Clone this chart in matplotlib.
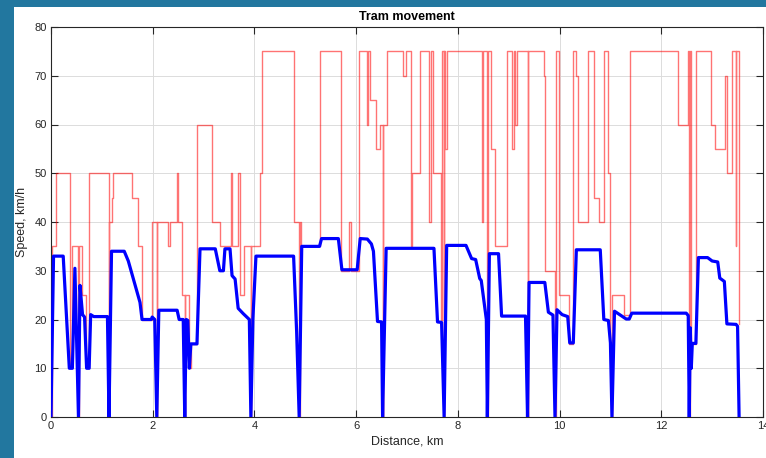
import matplotlib
matplotlib.use("Agg")
import matplotlib.pyplot as plt
from matplotlib.patches import Rectangle

# speed limit along the line: (start km, limit km/h), held until the next start
limit_km = [0.00, 0.01, 0.10, 0.37, 0.42, 0.54, 0.545, 0.60, 0.68, 0.75,
            1.14, 1.15, 1.19, 1.22, 1.60, 1.72, 1.78, 1.98, 2.08, 2.09,
            2.31, 2.34, 2.47, 2.50, 2.58, 2.63, 2.64, 2.71, 2.75, 2.88,
            3.16, 3.33, 3.53, 3.56, 3.67, 3.71, 3.80, 3.93, 3.94, 4.11,
            4.14, 4.77, 4.88, 4.89, 4.92, 5.29, 5.71, 5.86, 5.90, 6.05,
            6.21, 6.24, 6.27, 6.40, 6.47, 6.52, 6.53, 6.60, 6.93, 6.99,
            7.07, 7.09, 7.25, 7.43, 7.47, 7.52, 7.67, 7.69, 7.72, 7.735,
            7.75, 7.78, 8.47, 8.50, 8.58, 8.59, 8.66, 8.73, 8.97, 9.06,
            9.10, 9.13, 9.16, 9.37, 9.38, 9.69, 9.72, 9.91, 9.92, 9.98,
            10.19, 10.27, 10.33, 10.36, 10.55, 10.68, 10.78, 10.87, 10.96, 11.00,
            11.03, 11.04, 11.27, 11.38, 12.33, 12.52, 12.55, 12.56, 12.575, 12.68,
            12.98, 13.05, 13.25, 13.30, 13.40, 13.46, 13.47, 13.53, 13.535]
limit_kmh = [0, 35, 50, 10, 35, 0, 35, 25, 10, 50,
             0, 40, 45, 50, 45, 35, 20, 40, 0, 40,
             35, 40, 50, 40, 25, 0, 25, 10, 15, 60,
             40, 35, 50, 35, 50, 25, 35, 0, 35, 50,
             75, 40, 0, 40, 35, 75, 30, 40, 30, 75,
             60, 75, 65, 55, 60, 0, 60, 75, 70, 75,
             35, 50, 75, 40, 75, 50, 20, 75, 0, 75,
             55, 75, 40, 75, 0, 75, 55, 35, 75, 55,
             75, 60, 75, 0, 75, 70, 30, 0, 75, 25,
             15, 75, 70, 40, 75, 45, 40, 75, 50, 15,
             0, 25, 21, 75, 60, 75, 0, 75, 15, 75,
             60, 55, 70, 50, 75, 35, 75, 19, 19]

# measured tram speed
speed_km = [0.00, 0.05, 0.24, 0.36, 0.42, 0.47, 0.54, 0.57, 0.62, 0.66,
            0.70, 0.75, 0.78, 0.84, 1.11, 1.14, 1.19, 1.44, 1.52, 1.75,
            1.79, 1.97, 1.99, 2.04, 2.08, 2.12, 2.48, 2.52, 2.60, 2.63,
            2.66, 2.69, 2.72, 2.75, 2.87, 2.93, 3.23, 3.32, 3.39, 3.42,
            3.52, 3.56, 3.62, 3.68, 3.78, 3.90, 3.93, 3.97, 4.03, 4.77,
            4.83, 4.88, 4.93, 5.28, 5.32, 5.65, 5.72, 6.02, 6.08, 6.22,
            6.30, 6.34, 6.42, 6.50, 6.52, 6.59, 7.53, 7.60, 7.68, 7.73,
            7.78, 8.16, 8.27, 8.35, 8.43, 8.46, 8.56, 8.58, 8.62, 8.80,
            8.86, 9.33, 9.37, 9.40, 9.71, 9.78, 9.87, 9.91, 9.95, 10.05,
            10.16, 10.20, 10.27, 10.33, 10.80, 10.87, 10.96, 11.00, 11.03, 11.08,
            11.21, 11.31, 11.37, 11.42, 12.49, 12.53, 12.55, 12.57, 12.59, 12.61,
            12.68, 12.73, 12.91, 13.00, 13.11, 13.15, 13.24, 13.29, 13.47, 13.50,
            13.53]
speed_kmh = [0, 33, 33, 10, 10, 30.5, 0, 27, 21, 20.5,
             10, 10, 21, 20.6, 20.6, 0, 34, 34, 32, 23.5,
             20, 20, 20.5, 20, 0, 21.9, 21.9, 20, 20, 0,
             20, 19.8, 10, 15, 15, 34.5, 34.5, 30, 30, 34.5,
             34.5, 29, 28.3, 22.3, 21.2, 20, 0, 20.2, 33, 33,
             17.5, 0, 35, 35, 36.6, 36.6, 30.2, 30.2, 36.6, 36.5,
             35.5, 34, 19.6, 19.5, 0, 34.6, 34.6, 19.5, 19.4, 0,
             35.2, 35.2, 32.5, 32.3, 28.4, 28, 20, 0, 33.5, 33.5,
             20.7, 20.7, 0, 27.6, 27.6, 21.5, 20.9, 0, 22, 21,
             20.6, 15.2, 15.2, 34.3, 34.3, 20, 19.8, 15.2, 0, 21.7,
             20.8, 20.1, 20.1, 21.3, 21.3, 20.8, 0, 18.3, 10, 15.1,
             15.1, 32.7, 32.7, 32.0, 31.8, 28.5, 27.8, 19.1, 19, 18.6,
             0]

X_TICKS = [0, 2, 4, 6, 8, 10, 12, 14]
Y_TICKS = [0, 10, 20, 30, 40, 50, 60, 70, 80]

plt.rcParams["font.family"] = ["Liberation Sans", "DejaVu Sans"]
W, H = 766, 458
fig = plt.figure(figsize=(W / 100, H / 100), dpi=100)
fig.patch.set_facecolor("#22779f")
fig.add_artist(Rectangle((14 / W, 0), 1, (H - 7) / H, transform=fig.transFigure,
                         facecolor="white", edgecolor="none", zorder=0))

ax = fig.add_axes([51 / W, 41 / H, 712 / W, 390 / H])
ax.step(limit_km, limit_kmh, where="post", color="red", lw=1.0, alpha=0.55, zorder=2)
ax.plot(speed_km, speed_kmh, color="blue", lw=2.3, zorder=3, solid_joinstyle="round")

ax.set_xlim(0, 14)
ax.set_ylim(0, 80)
ax.set_xticks(X_TICKS)
ax.set_yticks(Y_TICKS)
ax.grid(True, color="#dcdcdc", lw=0.7)
ax.set_axisbelow(True)
ax.tick_params(direction="in", length=5, width=0.8, colors="#262626",
               labelsize=8, top=True, right=True, pad=3)
for sp in ax.spines.values():
    sp.set_color("#262626")
    sp.set_linewidth(0.8)

ax.set_title("Tram movement", fontsize=9, fontweight="bold", pad=5)
ax.set_xlabel("Distance, km", fontsize=9, color="#262626", labelpad=3)
ax.set_ylabel("Speed, km/h", fontsize=9, color="#262626", labelpad=5)

fig.savefig("out.png", dpi=100)
